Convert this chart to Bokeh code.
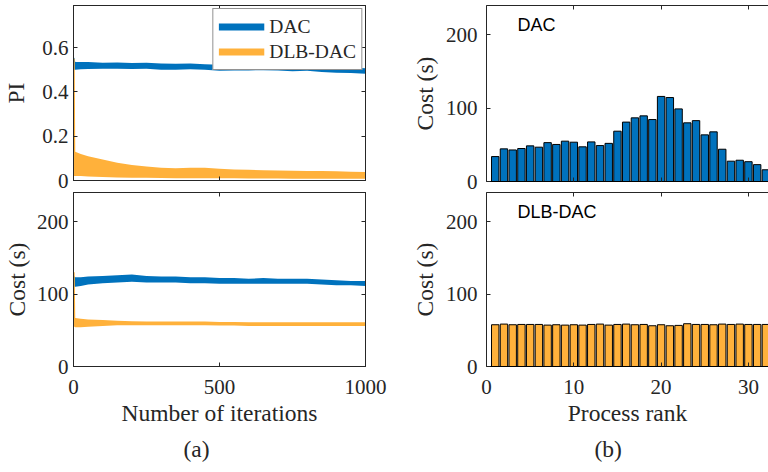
from bokeh.plotting import figure
from bokeh.models import LinearAxis, FixedTicker, Range1d, Legend, LegendItem, Label, Title
from bokeh.layouts import row, column
from bokeh.embed import file_html
from bokeh.resources import INLINE

# ---------------- data ----------------
ITERS = [0, 4, 6, 25, 50, 100, 150, 200, 250, 300, 350, 400, 450, 500,
         550, 600, 650, 700, 750, 800, 850, 900, 950, 1000]

# PI per iteration: noisy series given as lower / upper envelope
DAC_PI_LOW = [0.500, 0.500, 0.500, 0.502, 0.503, 0.505, 0.505, 0.503, 0.505, 0.500, 0.500, 0.502,
              0.500, 0.495, 0.497, 0.497, 0.498, 0.497, 0.493, 0.495, 0.490, 0.486, 0.485, 0.482]
DAC_PI_HIGH = [0.560, 0.550, 0.535, 0.535, 0.535, 0.532, 0.533, 0.530, 0.532, 0.528, 0.527, 0.528,
               0.525, 0.522, 0.523, 0.524, 0.525, 0.523, 0.520, 0.522, 0.517, 0.512, 0.510, 0.507]
DLB_PI_LOW = [0.020, 0.020, 0.020, 0.020, 0.018, 0.016, 0.014, 0.012, 0.012, 0.011, 0.010, 0.010,
              0.010, 0.010, 0.010, 0.009, 0.009, 0.009, 0.008, 0.008, 0.008, 0.008, 0.008, 0.008]
DLB_PI_HIGH = [0.550, 0.550, 0.130, 0.120, 0.110, 0.095, 0.080, 0.070, 0.063, 0.058, 0.055, 0.058,
               0.057, 0.053, 0.050, 0.048, 0.046, 0.045, 0.044, 0.043, 0.043, 0.042, 0.040, 0.038]

# Cost per iteration (s): lower / upper envelope
DAC_COST_LOW = [110, 110, 110, 111, 113, 115, 116, 117, 116, 116, 116, 115,
                115, 114, 114, 114, 114, 114, 114, 114, 113, 112, 112, 111]
DAC_COST_HIGH = [124, 124, 123, 123, 124, 125, 126, 127, 125, 124, 124, 123,
                 123, 122, 122, 121, 122, 121, 121, 121, 120, 119, 118, 118]
DLB_COST_LOW = [55, 55, 54, 54, 55, 56, 57, 57, 57, 57, 57, 57,
                57, 56.5, 56.5, 56, 56, 56, 56, 56, 56, 56, 56, 56]
DLB_COST_HIGH = [130, 130, 67, 66, 65, 64, 63, 62.5, 62, 62, 62, 62,
                 62, 61.5, 61.5, 61, 61, 61, 61, 61, 61, 61, 61, 61]

# Cost per process rank (s)
RANKS = [1, 2, 3, 4, 5, 6, 7, 8, 9, 10, 11, 12, 13, 14, 15, 16,
         17, 18, 19, 20, 21, 22, 23, 24, 25, 26, 27, 28, 29, 30, 31, 32]
DAC_RANK_COST = [34, 44.5, 43, 45, 48.6, 46.8, 53, 50.5, 55, 53.6, 47.3, 54, 49, 52, 68.6, 81,
                 86.8, 89.5, 84.5, 116, 114.5, 99, 80, 83, 63.6, 67.7, 44, 27.7, 29, 27, 23, 16]
DLB_RANK_COST = [57.6, 58.5, 57.6, 58, 58, 58, 57.1, 57.6, 57.1, 57.6, 57.1, 58, 58.5, 57.1, 58, 58.5,
                 57.6, 58, 56.2, 57.6, 56.2, 56.7, 59, 58, 58, 57.6, 58.5, 58, 58.5, 58, 58, 58]

SERIES = ["DAC", "DLB-DAC"]

PI_TICKS = [0, 0.2, 0.4, 0.6]
PI_TICK_LABELS = ["0", "0.2", "0.4", "0.6"]
COST_TICKS = [0, 100, 200]
COST_TICK_LABELS = ["0", "100", "200"]
ITER_TICKS = [0, 500, 1000]
ITER_TICK_LABELS = ["0", "500", "1000"]
RANK_TICKS = [0, 10, 20, 30]
RANK_TICK_LABELS = ["0", "10", "20", "30"]

# ---------------- style ----------------
SERIF = "Liberation Serif"
SANS = "Liberation Sans"
BLUE = "#0072BD"
YELLOW = "#FFB13B"
AX = "#262626"
TICK_SIZE = "21px"
LABEL_SIZE = "23.5px"
NAN = float("nan")


def style_axis(ax, ticks, labels=None, standoff=5):
    ax.ticker = FixedTicker(ticks=ticks)
    ax.major_tick_in = 4
    ax.major_tick_out = 0
    ax.minor_tick_line_color = None
    ax.axis_line_color = AX
    ax.axis_line_width = 1
    ax.major_tick_line_color = AX
    ax.major_label_text_font = SERIF
    ax.major_label_text_color = AX
    if labels is None:
        ax.major_label_overrides = {t: "" for t in ticks}
        ax.major_label_text_font_size = "1px"
        ax.major_label_standoff = 0
    else:
        ax.major_label_overrides = dict(zip(ticks, labels))
        ax.major_label_text_font_size = TICK_SIZE
        ax.major_label_standoff = standoff


def set_label(ax, text, standoff):
    ax.axis_label = text
    ax.axis_label_text_font = SERIF
    ax.axis_label_text_font_size = LABEL_SIZE
    ax.axis_label_text_font_style = "normal"
    ax.axis_label_text_color = AX
    ax.axis_label_standoff = standoff


def make_fig(width, height, xr, yr, ml, mr, mt, mb, box_right=True):
    p = figure(width=width, height=height, x_range=Range1d(*xr), y_range=Range1d(*yr),
               output_backend="svg", toolbar_location=None,
               min_border_left=ml, min_border_right=mr, min_border_top=mt, min_border_bottom=mb)
    p.grid.visible = False
    p.outline_line_color = AX if box_right else None
    p.background_fill_color = "white"
    p.border_fill_color = "white"
    return p


def caption(text, offset):
    # sub-figure caption, below the axis title
    return Title(text=text, align="left", offset=offset, standoff=15, vertical_align="top",
                 text_font=SERIF, text_font_size=LABEL_SIZE, text_font_style="normal",
                 text_color=AX)


# ---------------- (a) top: PI ----------------
pa1 = make_fig(400, 192, (0, 1000), (0, 0.79), 73, 35, 5, 12)
pa1.varea(x=ITERS, y1=DAC_PI_LOW, y2=DAC_PI_HIGH, fill_color=BLUE)
pa1.varea(x=ITERS, y1=DLB_PI_LOW, y2=DLB_PI_HIGH, fill_color=YELLOW)
style_axis(pa1.xaxis[0], ITER_TICKS)
style_axis(pa1.yaxis[0], PI_TICKS, PI_TICK_LABELS, standoff=5)
set_label(pa1.yaxis[0], "PI", 10)
top_ax = LinearAxis()
style_axis(top_ax, ITER_TICKS)
pa1.add_layout(top_ax, "above")
right_ax = LinearAxis()
style_axis(right_ax, PI_TICKS)
pa1.add_layout(right_ax, "right")

# legend proxies (a single undrawable point so only the legend swatch shows)
leg_dac = pa1.line(x=[NAN], y=[NAN], line_color=BLUE, line_width=7)
leg_dlb = pa1.line(x=[NAN], y=[NAN], line_color=YELLOW, line_width=7)
legend = Legend(items=[LegendItem(label=SERIES[0], renderers=[leg_dac]),
                       LegendItem(label=SERIES[1], renderers=[leg_dlb])],
                location="top_right", margin=3, padding=5, spacing=0,
                glyph_width=46, glyph_height=25, label_height=25, label_standoff=5,
                label_text_font=SERIF, label_text_font_size="19.5px", label_text_color=AX,
                border_line_color=AX, border_line_width=1, background_fill_color="white",
                background_fill_alpha=1.0)
pa1.add_layout(legend)

# ---------------- (a) bottom: Cost ----------------
pa2 = make_fig(400, 280, (0, 1000), (0, 240), 73, 35, 0, 106)
pa2.varea(x=ITERS, y1=DAC_COST_LOW, y2=DAC_COST_HIGH, fill_color=BLUE)
pa2.varea(x=ITERS, y1=DLB_COST_LOW, y2=DLB_COST_HIGH, fill_color=YELLOW)
style_axis(pa2.xaxis[0], ITER_TICKS, ITER_TICK_LABELS, standoff=13)
set_label(pa2.xaxis[0], "Number of iterations", 3)
style_axis(pa2.yaxis[0], COST_TICKS, COST_TICK_LABELS, standoff=5)
set_label(pa2.yaxis[0], "Cost (s)", 4)
top_ax = LinearAxis()
style_axis(top_ax, ITER_TICKS)
pa2.add_layout(top_ax, "above")
right_ax = LinearAxis()
style_axis(right_ax, COST_TICKS)
pa2.add_layout(right_ax, "right")
pa2.add_layout(caption("(a)", 110), "below")

# ---------------- (b) top: DAC per rank ----------------
pb1 = make_fig(368, 192, (0, 32.3), (0, 240), 86, 0, 5, 11, box_right=False)
pb1.vbar(x=RANKS, top=DAC_RANK_COST, width=0.85, fill_color=BLUE, line_color="black", line_width=1)
style_axis(pb1.xaxis[0], RANK_TICKS)
pb1.xaxis[0].axis_line_color = "black"
style_axis(pb1.yaxis[0], COST_TICKS, COST_TICK_LABELS, standoff=9)
set_label(pb1.yaxis[0], "Cost (s)", 5)
top_ax = LinearAxis()
style_axis(top_ax, RANK_TICKS)
pb1.add_layout(top_ax, "above")
pb1.add_layout(Label(x=3.55, y=213, text=SERIES[0], text_font=SANS, text_font_size="18px",
                     text_baseline="middle", text_color="black"))

# ---------------- (b) bottom: DLB-DAC per rank ----------------
pb2 = make_fig(368, 280, (0, 32.3), (0, 240), 86, 0, 0, 106, box_right=False)
pb2.vbar(x=RANKS, top=DLB_RANK_COST, width=0.85, fill_color=YELLOW, line_color="black", line_width=1)
style_axis(pb2.xaxis[0], RANK_TICKS, RANK_TICK_LABELS, standoff=13)
pb2.xaxis[0].axis_line_color = "black"
set_label(pb2.xaxis[0], "Process rank", 3)
style_axis(pb2.yaxis[0], COST_TICKS, COST_TICK_LABELS, standoff=9)
set_label(pb2.yaxis[0], "Cost (s)", 5)
top_ax = LinearAxis()
style_axis(top_ax, RANK_TICKS)
pb2.add_layout(top_ax, "above")
pb2.add_layout(Label(x=3.55, y=213, text=SERIES[1], text_font=SANS, text_font_size="18px",
                     text_baseline="middle", text_color="black"))
pb2.add_layout(caption("(b)", 108), "below")

layout = row(column(pa1, pa2), column(pb1, pb2))

open("out.html", "w").write(file_html(layout, INLINE))
